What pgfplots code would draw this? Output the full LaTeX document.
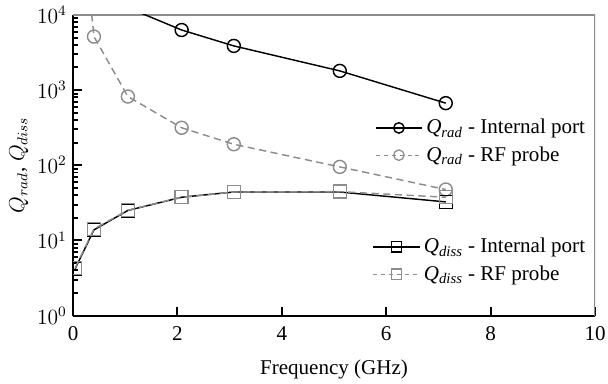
\documentclass[border=0pt]{standalone}
\usepackage{fontspec}
\setmainfont{LiberationSerif}[Extension=.ttf, UprightFont=*-Regular, ItalicFont=*-Italic, BoldFont=*-Bold]
\usepackage{pgfplots}
\pgfplotsset{compat=1.18}

\definecolor{probegray}{gray}{0.55}

\newcommand{\Qr}{\textit{Q}\textsubscript{\textit{rad}}}
\newcommand{\Qd}{\textit{Q}\textsubscript{\textit{diss}}}

\pgfplotsset{
  longlegend/.style={legend image code/.code={%
    \draw[mark repeat=2,mark phase=2,mark size=2.9pt,##1] plot coordinates {(0cm,0cm) (0.45cm,0cm) (0.9cm,0cm)};}},
  common/.style={
    scale only axis, width=290pt, height=167pt,
    xmin=0, xmax=10, ymin=1, ymax=1e4,
    font=\fontsize{11.7}{14}\selectfont,
  },
  internal/.style={black, line width=0.8pt, mark size=3.6pt, mark options={solid, line width=0.8pt}},
  probe/.style={probegray, dashed, dash pattern=on 4pt off 2.5pt, line width=0.8pt, mark size=3.6pt, mark options={solid, line width=0.8pt}},
  probeleg/.style={probegray, dash pattern=on 2.2pt off 2.2pt, line width=0.7pt, mark options={solid, line width=0.7pt}},
}

\begin{document}
\begin{tikzpicture}
\useasboundingbox (-40.6pt,-37.8pt) rectangle (297.2pt,175.3pt);
\begin{axis}[
  common,
  ymode=log,
  axis x line*=bottom, axis y line*=left,
  axis line style={black, line width=1.1pt},
  every tick/.style={black, line width=1.1pt},
  major tick length=5pt, minor tick length=3pt,
  tick align=inside,
  xtick={0,2,4,6,8,10},
  ytick={1,10,100,1000,10000},
  xticklabel style={/pgf/number format/assume math mode=true, yshift=-2.5pt},
  xlabel={Frequency (GHz)},
  ylabel={$Q_{rad}$, $Q_{diss}$},
  xlabel style={yshift=-4pt},
  ylabel style={yshift=-2pt},
  clip marker paths=true,
  legend style={draw=none, fill=none, at={(0.992,0.672)}, anchor=north east,
    row sep=1.5pt, inner sep=1pt, font=\fontsize{11.7}{14}\selectfont},
  legend cell align=left,
  longlegend,
]
\draw[probegray, line width=0.8pt] (rel axis cs:0,1) -- (rel axis cs:1,1) -- (rel axis cs:1,0);

% Radiation Q, internal port
\addplot[internal, mark=o] coordinates {
  (1.05,12500) (2.08,6300) (3.08,3870) (5.11,1800) (7.14,670)
};
\addlegendentry{\Qr{} - Internal port}
% Radiation Q, RF probe
\addplot[probe, mark=o, forget plot] coordinates {
  (0.04,1.5e6) (0.40,5150) (1.05,820) (2.08,315) (3.08,190) (5.11,95) (7.14,47.5)
};
\addlegendimage{probeleg, mark=o}
\addlegendentry{\Qr{} - RF probe}

% Dissipation Q, internal port
\addplot[internal, mark=square, forget plot] coordinates {
  (0.04,4.2) (0.40,13.8) (1.05,25) (2.08,37.5) (3.08,44) (5.11,44) (7.14,32.5)
};
% Dissipation Q, RF probe
\addplot[probe, mark=square, forget plot] coordinates {
  (0.04,4.3) (0.40,14.2) (1.05,25.2) (2.08,37.5) (3.08,44) (5.11,44.5) (7.14,37.5)
};
\end{axis}

\begin{axis}[
  common, ymode=log, hide axis,
  legend style={draw=none, fill=none, at={(0.992,0.276)}, anchor=north east,
    row sep=1.5pt, inner sep=1pt, font=\fontsize{11.7}{14}\selectfont},
  legend cell align=left,
  longlegend,
]
\addlegendimage{internal, mark=square}
\addlegendentry{\Qd{} - Internal port}
\addlegendimage{probeleg, mark=square}
\addlegendentry{\Qd{} - RF probe}
\end{axis}
\end{tikzpicture}
\end{document}
